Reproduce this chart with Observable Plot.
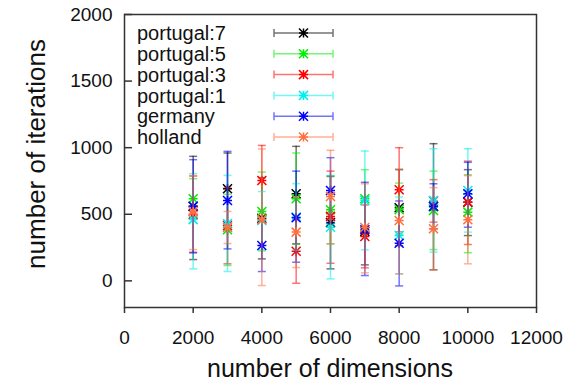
<!DOCTYPE html>
<html>
<head>
<meta charset="utf-8">
<script src="https://cdn.jsdelivr.net/npm/d3@7"></script>
<script src="https://cdn.jsdelivr.net/npm/@observablehq/plot@0.6"></script>
<style>
  html, body { margin: 0; padding: 0; background: #fff; }
  #chart { position: relative; width: 575px; height: 382px; }
</style>
</head>
<body>
<div id="chart"></div>
<script>
// Problem sizes (number of dimensions) and axis ticks
const dims = [2000, 3000, 4000, 5000, 6000, 7000, 8000, 9000, 10000];
const xTicks = [0, 2000, 4000, 6000, 8000, 10000, 12000];
const yTicks = [0, 500, 1000, 1500, 2000];

const seriesNames = ["portugal:7", "portugal:5", "portugal:3", "portugal:1", "germany", "holland"];
const seriesColors = ["#000000", "#00ee00", "#ff0000", "#00f0f0", "#0000ff", "#ff7040"];

// Mean number of iterations and error-bar bounds per series
const p7Mean = [560, 692, 470, 654, 438, 370, 549, 560, 590];
const p7Low  = [160, 420, 165, 278,  90, 120, 265,  83, 340];
const p7High = [935, 960, 775, 1010, 784, 620, 835, 1030, 835];

const p5Mean = [617, 384, 521, 617, 534, 617, 534, 529, 516];
const p5Low  = [467, 115, 225, 275, 278, 400, 350, 235, 211];
const p5High = [767, 650, 817, 960, 790, 835, 734, 824, 797];

const p3Mean = [500, 416, 754, 223, 484, 333, 684, 600, 591];
const p3Low  = [215, 128, 490, -18, 132,  98, 368, 441, 273];
const p3High = [787, 700, 1017, 460, 824, 570, 1000, 760, 899];

const p1Mean = [460, 430, 453, 480, 403, 604, 340, 604, 679];
const p1Low  = [ 90,  70, 235, 230,  15, 233,  52, 216, 366];
const p1High = [805, 792, 671, 730, 790, 975, 630, 992, 992];

const deMean = [560, 604, 265, 474, 679, 384, 283, 559, 654];
const deLow  = [210, 240,  70, 140, 430,  40, -38, 390, 403];
const deHigh = [910, 972, 460, 824, 925, 740, 600, 729, 890];

const nlMean = [520, 400, 460, 366, 634, 400, 453, 391, 459];
const nlLow  = [235, 280, -35, 100, 278,  60,  53,  83, 128];
const nlHigh = [790, 521, 990, 630, 980, 729, 840, 700, 790];

const seriesMeans = [p7Mean, p5Mean, p3Mean, p1Mean, deMean, nlMean];
const seriesLows  = [p7Low,  p5Low,  p3Low,  p1Low,  deLow,  nlLow];
const seriesHighs = [p7High, p5High, p3High, p1High, deHigh, nlHigh];

// Short horizontal bar used as an error-bar cap
const capSymbol = {
  draw(context, size) {
    const r = Math.sqrt(size / Math.PI);
    context.moveTo(-r, 0);
    context.lineTo(r, 0);
  }
};
// Gnuplot-style asterisk point: a plus overlaid with a cross
const starSymbol = {
  draw(context, size) {
    const r = Math.sqrt(size / Math.PI);
    context.moveTo(-r, 0); context.lineTo(r, 0);
    context.moveTo(0, -r); context.lineTo(0, r);
    context.moveTo(-r, -r); context.lineTo(r, r);
    context.moveTo(-r, r); context.lineTo(r, -r);
  }
};

const lineOpacity = 0.55;

const seriesMarks = seriesNames.flatMap((name, s) => {
  const rows = dims.map((d, i) => ({
    series: name, dim: d,
    mean: seriesMeans[s][i], low: seriesLows[s][i], high: seriesHighs[s][i]
  }));
  const color = seriesColors[s];
  return [
    Plot.ruleX(rows, {x: "dim", y1: "low", y2: "high", stroke: color, strokeWidth: 1.5, strokeOpacity: lineOpacity}),
    Plot.dot(rows, {x: "dim", y: "low", symbol: capSymbol, r: 4, stroke: color, strokeWidth: 1.5, strokeOpacity: lineOpacity, fill: "none"}),
    Plot.dot(rows, {x: "dim", y: "high", symbol: capSymbol, r: 4, stroke: color, strokeWidth: 1.5, strokeOpacity: lineOpacity, fill: "none"}),
    Plot.dot(rows, {x: "dim", y: "mean", symbol: starSymbol, r: 4.5, stroke: color, strokeWidth: 1.5, fill: "none"})
  ];
});

const chart = Plot.plot({
  width: 575,
  height: 382,
  marginLeft: 124,
  marginRight: 39,
  marginTop: 14,
  marginBottom: 75,
  style: {fontFamily: "'Liberation Sans', Arial, sans-serif", fontSize: "19px", color: "#111", background: "#fff"},
  x: {domain: [0, 12000], label: null},
  y: {domain: [-200, 2000], label: null},
  marks: [
    ...seriesMarks,
    Plot.frame({stroke: "#333", strokeWidth: 1.5}),
    Plot.axisX({ticks: xTicks, tickSize: 6, tickPadding: 17, tickFormat: d => String(d), label: null, stroke: "#333", strokeWidth: 1.5}),
    Plot.axisY({ticks: yTicks, tickSize: -8, tickPadding: 20, tickFormat: d => String(d), label: null, stroke: "#333", strokeWidth: 1.5})
  ]
});

document.getElementById("chart").appendChild(chart);

// Axis titles and the key, added to the same SVG
const svg = d3.select(chart);
svg.append("text")
  .attr("x", 330).attr("y", 377)
  .attr("text-anchor", "middle")
  .attr("font-size", 25)
  .attr("fill", "#111")
  .text("number of dimensions");
svg.append("text")
  .attr("transform", "translate(45,154) rotate(-90)")
  .attr("text-anchor", "middle")
  .attr("font-size", 26)
  .attr("fill", "#111")
  .text("number of iterations");

const key = svg.append("g").attr("text-anchor", "start");
seriesNames.forEach((name, s) => {
  const cy = 33 + s * 20.8;
  const color = seriesColors[s];
  const row = key.append("g").attr("transform", `translate(0,${cy})`);
  row.append("text")
    .attr("x", 137).attr("dy", "0.36em")
    .attr("text-anchor", "start")
    .attr("font-size", 20).attr("fill", "#111")
    .text(name);
  const sample = row.append("g").attr("stroke", color).attr("stroke-width", 1.5).attr("fill", "none");
  sample.append("path").attr("stroke-opacity", lineOpacity)
    .attr("d", "M274,0H333M274,-4V4M333,-4V4");
  const p = d3.path();
  starSymbol.draw(p, Math.PI * 4.5 * 4.5);
  sample.append("path").attr("transform", "translate(303.5,0)").attr("d", p.toString());
});
</script>
</body>
</html>
